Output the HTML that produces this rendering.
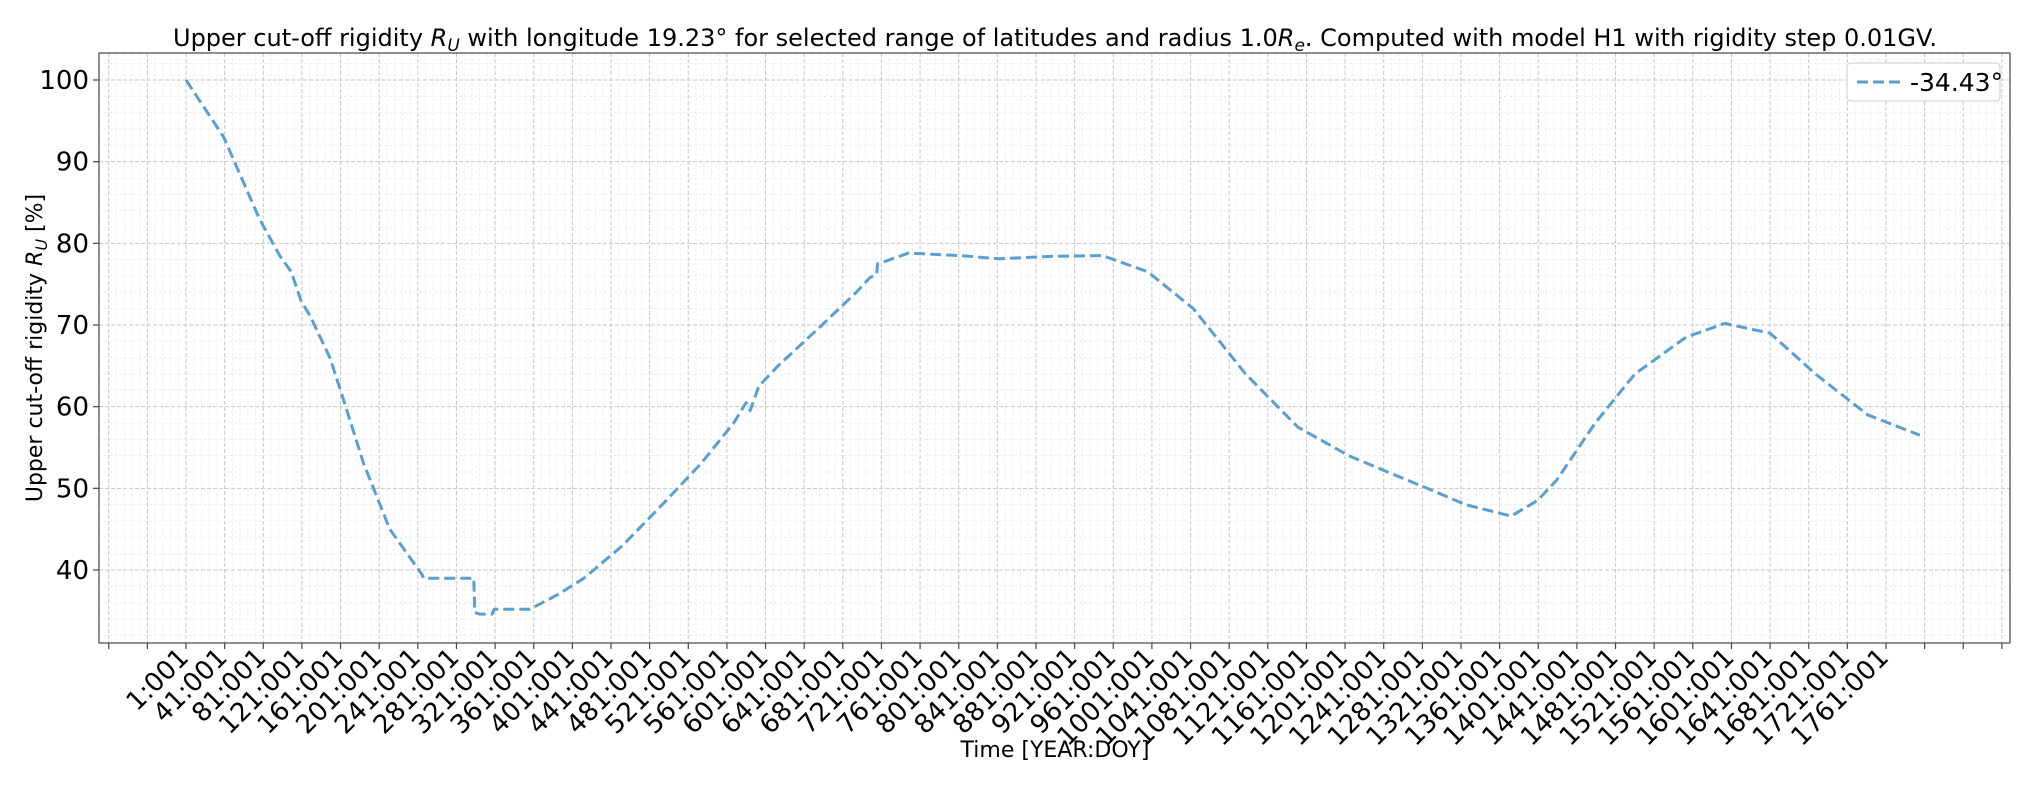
<!DOCTYPE html>
<html><head><meta charset="utf-8"><style>
html,body{margin:0;padding:0;background:#fff;}
svg{display:block;font-family:"DejaVu Sans","Liberation Sans",sans-serif;}
</style></head><body>
<svg id="chart" width="2034" height="785" viewBox="0 0 2034 785" xmlns="http://www.w3.org/2000/svg">
<text x="1055" y="46" font-size="24" text-anchor="middle" fill="#000">Upper cut-off rigidity <tspan font-style="italic">R</tspan><tspan font-style="italic" font-size="17" dy="5">U</tspan><tspan dy="-5"> with longitude 19.23° for selected range of latitudes and radius 1.0</tspan><tspan font-style="italic">R</tspan><tspan font-style="italic" font-size="17" dy="5">e</tspan><tspan dy="-5">. Computed with model H1 with rigidity step 0.01GV.</tspan></text>
<g id="grid"></g>
<g id="series"></g>
<rect x="99" y="53" width="1911" height="590" fill="none" stroke="#444" stroke-width="1.2"/>
<g id="axes"></g>
<text transform="translate(42,348) rotate(-90)" font-size="22" text-anchor="middle">Upper cut-off rigidity <tspan font-style="italic">R</tspan><tspan font-style="italic" font-size="16" dy="5">U</tspan><tspan dy="-5"> [%]</tspan></text>
<text x="1055" y="757" font-size="22" text-anchor="middle">Time [YEAR:DOY]</text>
<g>
<rect x="1847" y="63" width="153" height="38" rx="4" fill="#fff" stroke="#ccc"/>
<line x1="1857" y1="82" x2="1901" y2="82" stroke="#5b9fcf" stroke-width="3" stroke-dasharray="11,5"/>
<text x="1910" y="91" font-size="25">-34.43°</text>
</g>
</svg>
<script>
const days = [1,40,77,98,110,120,130,138,150,161,185,212,245,247,299,300,305,318,320,357,386,413,453,494,534,568,581,585,594,614,655,695,709,716,717,718,749,802,843,896,950,997,1044,1098,1152,1205,1245,1286,1326,1373,1400,1420,1460,1501,1554,1594,1641,1688,1742,1796];
const values = [100,93,83,78.5,76.5,73,71,69,66,62,53,45,39.5,39,39,34.8,34.6,34.6,35.2,35.2,37,39,43,48,53,58,60.5,59.5,62.5,65,69.5,74,75.8,76.2,77.5,77.5,78.8,78.5,78.1,78.4,78.5,76.5,72,64,57.5,54,52,50,48,46.6,48.5,51,58,64,68.5,70.2,69,64,59,56.5];
const yTicks = [40,50,60,70,80,90,100];
const xTickLabels = [];
for (let d = 1; d <= 1761; d += 40) xTickLabels.push(d + ':001');
const NS = 'http://www.w3.org/2000/svg';
const L = 99, R = 2010, T = 53, B = 643;
function xs(d){ return 186 + (d - 1) * (38.636 / 40); }
function ys(v){ return 570 - (v - 40) * 8.167; }
function mk(tag, attrs, parent){ const e = document.createElementNS(NS, tag); for (const k in attrs) e.setAttribute(k, attrs[k]); parent.appendChild(e); return e; }
const grid = document.getElementById('grid'), axes = document.getElementById('axes'), series = document.getElementById('series');
for (let d = -79; d <= 1900; d += 8) {
  const x = xs(d); if (x < L || x > R) continue;
  const major = ((d + 79) % 40) === 0;
  const g = mk('line', {x1:x, x2:x, y1:T, y2:B, stroke: major ? '#c8c8c8' : '#ececec', 'stroke-width': major ? 1 : 0.8, 'stroke-dasharray': major ? '4,2' : '3,2'}, grid);
  
  
  if (major) {
    const t = mk('line', {x1:x, x2:x, y1:B, y2:B+6, stroke:'#444', 'stroke-width':1.2}, axes);
    
    
  }
}
for (let v = 32; v <= 104; v += 2) {
  const y = ys(v); if (y < T || y > B) continue;
  const major = v % 10 === 0;
  const g = mk('line', {x1:L, x2:R, y1:y, y2:y, stroke: major ? '#c8c8c8' : '#ececec', 'stroke-width': major ? 1 : 0.8, 'stroke-dasharray': major ? '4,2' : '3,2'}, grid);
  
  
}
yTicks.forEach(v => {
  const y = ys(v);
  const t = mk('line', {x1:L-6, x2:L, y1:y, y2:y, stroke:'#444', 'stroke-width':1.2}, axes);
  
  
  const lb = mk('text', {x:L-10, y:y+9, 'font-size':26, 'text-anchor':'end'}, axes);
  lb.textContent = v;
  
  
});
xTickLabels.forEach((s, i) => {
  const x = xs(1 + i * 40);
  const lb = mk('text', {transform:`translate(${x+4},${B+16}) rotate(-45)`, 'font-size':26, 'text-anchor':'end'}, axes);
  lb.textContent = s;
  
  
});
const pts = days.map((d, i) => xs(d).toFixed(1) + ',' + ys(values[i]).toFixed(1)).join(' ');
const line = mk('polyline', {points: pts, fill:'none', stroke:'#5b9fcf', 'stroke-width':3, 'stroke-dasharray':'11,5', 'stroke-linejoin':'round'}, series);


</script>
</body></html>
